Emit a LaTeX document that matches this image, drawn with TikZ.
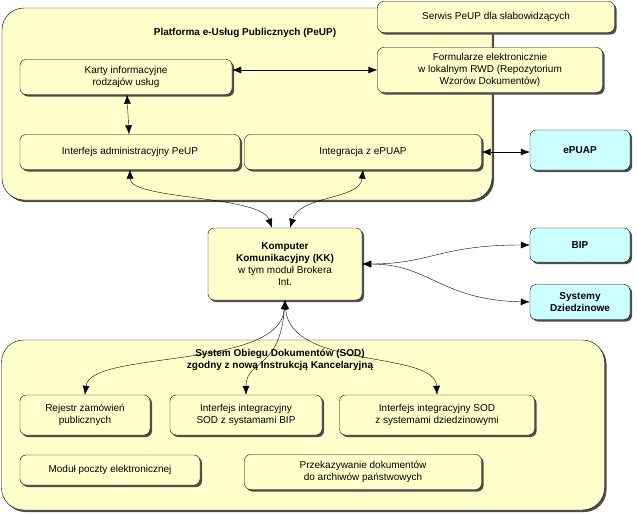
\documentclass[tikz,border=0pt]{standalone}
\usepackage{fontspec}
\setmainfont{Liberation Sans}
\usetikzlibrary{shadows,arrows.meta}
\definecolor{boxyellow}{RGB}{255,255,204}
\definecolor{boxcyan}{RGB}{204,255,255}
\begin{document}
\begin{tikzpicture}[x=1pt,y=-1pt,font=\fontsize{10}{12}\selectfont,
	box/.style={draw,fill=boxyellow,rounded corners=6pt,align=center,inner sep=1pt,
		drop shadow={shadow xshift=2pt,shadow yshift=-2pt,fill=black!70,opacity=1}},
	big/.style={box,rounded corners=22pt},
	ext/.style={box,fill=boxcyan,font=\fontsize{10}{12}\selectfont\bfseries},
	link/.style={{Latex[length=9pt,width=7pt]}-{Latex[length=9pt,width=7pt]},thin}]
	\useasboundingbox (0,0) rectangle (637,514);
	% platforma
	\node[big,minimum width=490pt,minimum height=192pt] (peup) at (247,104) {};
	\node[font=\fontsize{10}{12}\selectfont\bfseries] at (245,33) {Platforma e-Usług Publicznych (PeUP)};
	\node[box,minimum width=237pt,minimum height=31pt] (serwis) at (496,17) {Serwis PeUP dla słabowidzących};
	\node[box,minimum width=225pt,minimum height=45pt] (form) at (490,70) {Formularze elektronicznie\\w lokalnym RWD (Repozytorium\\Wzorów Dokumentów)};
	\node[box,minimum width=212pt,minimum height=35pt] (karty) at (126,77) {Karty informacyjne\\rodzajów usług};
	\node[box,minimum width=220pt,minimum height=35pt] (admin) at (130,152) {Interfejs administracyjny PeUP};
	\node[box,minimum width=237pt,minimum height=35pt] (integr) at (363,152) {Integracja z ePUAP};
	\node[ext,minimum width=100pt,minimum height=40pt] (epuap) at (580,150) {ePUAP};
	% komputer
	\node[box,minimum width=154pt,minimum height=72pt] (kk) at (285,264) {\textbf{Komputer}\\\textbf{Komunikacyjny (KK)}\\w tym moduł Brokera\\Int.};
	\node[ext,minimum width=100pt,minimum height=34pt] (bip) at (580,245) {BIP};
	\node[ext,minimum width=100pt,minimum height=35pt] (sys) at (580,302) {Systemy\\Dziedzinowe};
	% SOD
	\node[big,minimum width=603pt,minimum height=170pt] (sod) at (303,425) {};
	\node[font=\fontsize{10}{12}\selectfont\bfseries,align=center] at (280,360) {System Obiegu Dokumentów (SOD)\\zgodny z nową Instrukcją Kancelaryjną};
	\node[box,minimum width=130pt,minimum height=40pt] (rejestr) at (85,415) {Rejestr zamówień\\publicznych};
	\node[box,minimum width=152pt,minimum height=40pt] (ibip) at (246,415) {Interfejs integracyjny\\SOD  z systamami BIP};
	\node[box,minimum width=195pt,minimum height=40pt] (isod) at (437,415) {Interfejs integracyjny SOD\\z systemami dziedzinowymi};
	\node[box,minimum width=180pt,minimum height=30pt] (modul) at (110,470) {Moduł poczty elektronicznej};
	\node[box,minimum width=237pt,minimum height=35pt] (arch) at (363,472) {Przekazywanie dokumentów\\do archiwów państwowych};
	% polaczenia
	\draw[link] (karty.east |- 0,70) -- (form.west |- 0,70);
	\draw[link] (karty) -- (admin);
	\draw[link] (integr) -- (epuap.west |- integr);
	\draw[link] (admin.south) .. controls (130,200) and (260,195) .. (kk.north -| 272,0);
	\draw[link] (integr.south) .. controls (360,200) and (300,195) .. (kk.north -| 290,0);
	\draw[link] (kk.east) .. controls (430,264) and (440,245) .. (bip.west);
	\draw[link] (kk.east) .. controls (430,264) and (440,300) .. (sys.west);
	\draw[link] (kk.south) .. controls (280,370) and (90,350) .. (rejestr.north);
	\draw[link] (kk.south) .. controls (280,370) and (246,360) .. (ibip.north);
	\draw[link] (kk.south) .. controls (290,370) and (435,350) .. (isod.north);
\end{tikzpicture}
\end{document}
